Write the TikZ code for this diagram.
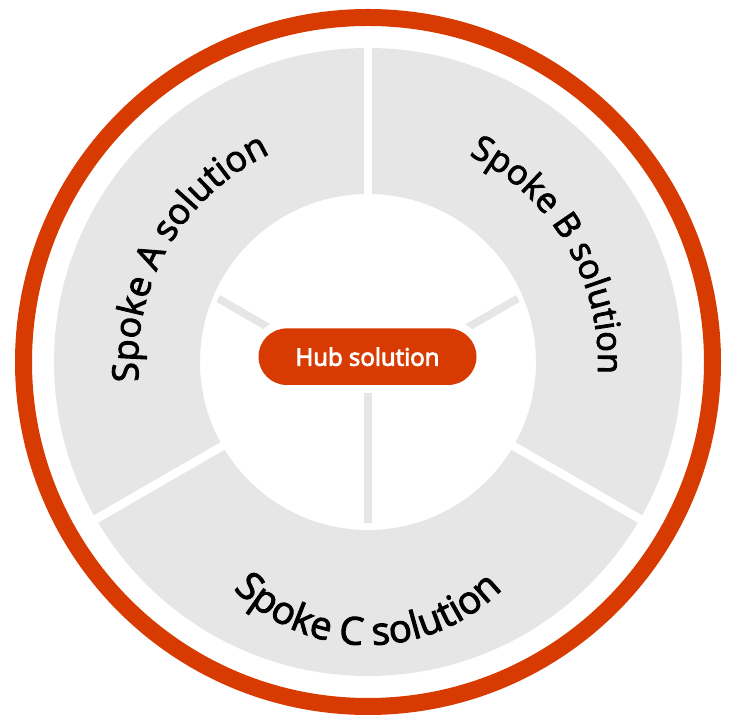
\documentclass[tikz,border=0pt]{standalone}
\usepackage{fontspec}
\setmainfont{Open Sans}
\newfontfamily\spokefont{Open Sans}[FakeBold=2.5]
\newfontfamily\hubfont{Open Sans}[FakeBold=3.5]
\usetikzlibrary{decorations.text}
\definecolor{msorange}{HTML}{D83B01}
\definecolor{ringgray}{HTML}{E6E6E6}
\begin{document}
\begin{tikzpicture}[x=1pt,y=1pt,
  gapline/.style={white,line width=8.4pt},
  spokeline/.style={ringgray,line width=7.7pt},
  arclabel/.style 2 args={decorate,decoration={text along path,text align=center,text={|\spokefont\fontsize{#1}{43}\selectfont|#2}}}]
\useasboundingbox (0,0) rectangle (729,717);
\coordinate (c) at (368,355);
% gray annulus
\fill[ringgray,even odd rule] (c) circle[radius=314] (c) circle[radius=168];
\foreach \a in {90,210,330} \draw[gapline] (c) ++(\a:150) -- ++(\a:175);
% outer ring
\draw[msorange,line width=17pt] (c) circle[radius=344.5];
% inner spokes
\coordinate (hb) at (368,332);
\draw[spokeline] (hb) -- ++(150:173);
\draw[spokeline] (hb) -- ++(30:173);
\draw[spokeline] (hb) -- ++(270:137.7);
% hub
\node[fill=msorange, preaction={draw=white,line width=16pt}, rounded corners=28.3pt,
      minimum width=218pt, minimum height=56.6pt, inner sep=0pt, text=white,
      font=\hubfont\fontsize{24}{29}\selectfont] (hub) at (367.5,360.3) {Hub solution};
% curved labels
\coordinate (cc) at (368,262);
\path[arclabel={36}{Spoke A solution}] (c) ++(200:230) arc[start angle=200,end angle=100,radius=230];
\path[arclabel={34.5}{Spoke B solution}] (c) ++(80.5:230) arc[start angle=80.5,end angle=-19.5,radius=230];
\path[arclabel={38.5}{Spoke C solution}] (cc) ++(200:190) arc[start angle=200,end angle=340,radius=190];
\end{tikzpicture}
\end{document}
